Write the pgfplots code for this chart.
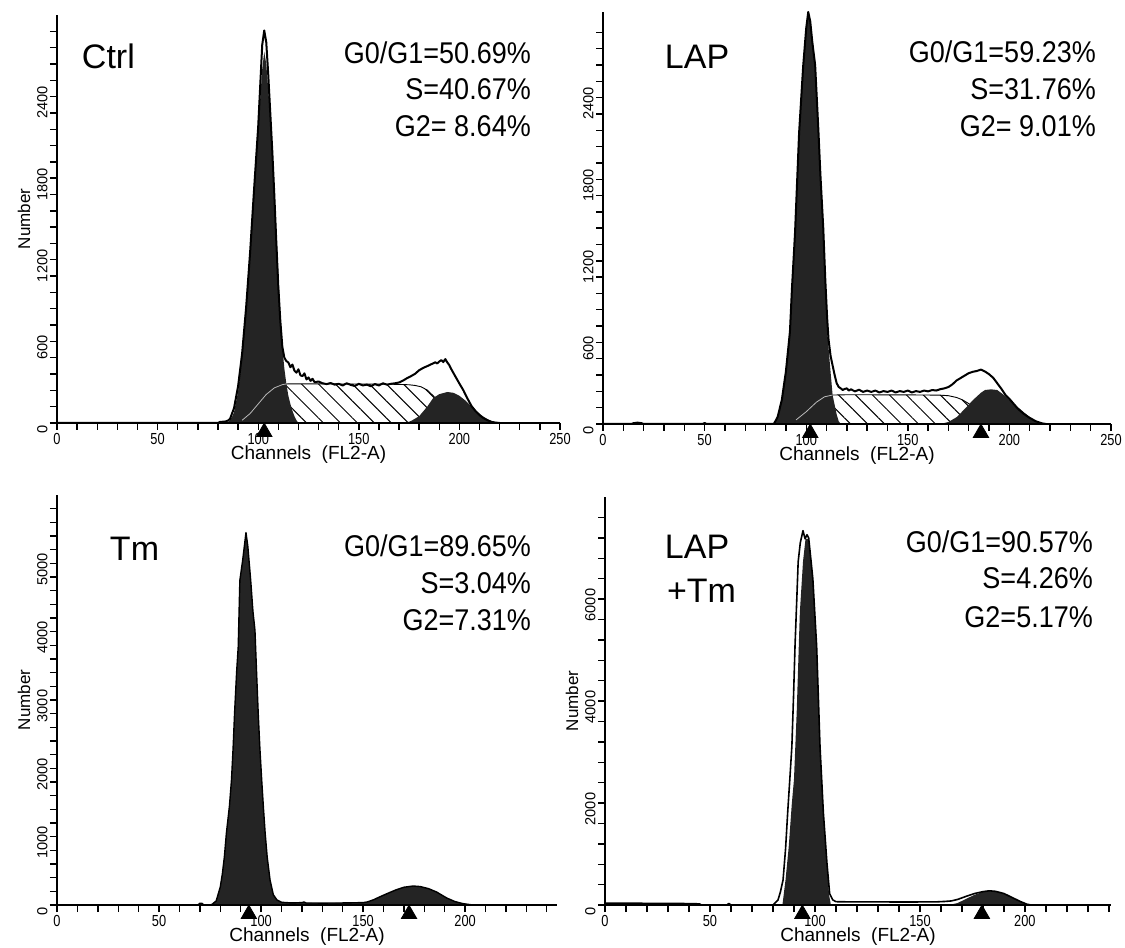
\documentclass[border=0pt]{standalone}
\usepackage{fontspec}
\setmainfont{Liberation Sans}
\newfontfamily\narrowfont[FakeStretch=0.8]{Liberation Sans}
\newfontfamily\pctfont[FakeStretch=0.9]{Liberation Sans}
\usepackage{pgfplots}
\pgfplotsset{compat=1.18}
\usetikzlibrary{patterns.meta}

\newcommand\titlef{\fontsize{17}{20}\selectfont}
\newcommand\pctf{\pctfont\fontsize{15}{18}\selectfont}

\pgfplotsset{
 flow/.style={
  scale only axis, axis lines=left,
  axis line style={-, line width=0.9pt, black},
  tick style={black, line width=0.7pt},
  tick align=outside,
  major tick length=3.5pt, minor tick length=3.5pt,
  xmin=0, ymin=0, clip=false, axis on top,
  xticklabel style={font=\narrowfont\fontsize{8}{9}\selectfont, inner sep=0.5pt, yshift=-1pt},
  yticklabel style={font=\fontsize{7.3}{9}\selectfont, rotate=90, anchor=south, inner sep=1pt, xshift=-3pt},
  xlabel={Channels\ \ (FL2-A)},
  xlabel style={font=\fontsize{9.5}{11}\selectfont, inner sep=0pt, yshift=0pt},
  ylabel style={font=\fontsize{8.5}{10}\selectfont, yshift=-1pt},
  /pgf/number format/assume math mode=true,
  /pgf/number format/1000 sep={},
  scaled ticks=false,
 },
 dfill/.style={fill=black!86, draw=none},
 outl/.style={black, line width=1pt, line join=round},
 hatch/.style={pattern={Lines[angle=-45,distance=6pt,line width=0.5pt]}, draw=black, line width=0.45pt},
 tri/.style={only marks, mark=triangle*, mark size=4.4pt, black},
}

\begin{document}
\begin{tikzpicture}
\useasboundingbox (0,0) rectangle (562.5pt,474pt);

% ---------------- Ctrl ----------------
\begin{axis}[flow, at={(28.5pt,262.5pt)}, anchor=south west,
  width=251.5pt, height=204pt, xmax=250, ymax=3000,
  xtick={0,50,...,250}, minor xtick={0,10,...,250},
  ytick={0,600,1200,1800,2400}, minor ytick={0,120,...,2880},
  ylabel={Number}]
\addplot[hatch] coordinates {(88,0) (92,20) (96,70) (100,140) (104,210) (108,258) (112,282) (114,287) (120,288) (130,288) (140,287) (150,287) (160,286) (170,284) (175,281) (178,276) (181,266) (184,242) (187,200) (190,150) (193,105) (196,68) (200,30) (204,10) (208,0)} \closedcycle;
\addplot[dfill] coordinates {(84,0) (85,8) (86,20) (87,45) (88,80) (90,230) (92,480) (94,820) (96,1250) (98,1720) (100,2150) (101,2380) (102,2600) (103,2730) (104,2640) (105,2450) (106,2250) (107,2000) (108,1720) (109,1420) (110,1100) (111,800) (112,560) (113,400) (114,287) (115,200) (116,140) (117,90) (118,50) (119,20) (120,0)} \closedcycle;
\addplot[gray!55, line width=0.4pt] coordinates {(92,20) (96,70) (100,140) (104,210) (108,258) (112,282) (114,287)};
\addplot[dfill] coordinates {(173,0) (176,15) (180,50) (184,120) (187,184) (190,212) (194,228) (197,222) (200,200) (203,165) (206,120) (209,80) (212,45) (215,20) (218,5) (220,0)} \closedcycle;
\addplot[outl] coordinates {(0,0) (80,0) (81,8) (83,10) (84,12) (85,18) (86,30) (88,110) (90,270) (92,510) (94,850) (96,1260) (98,1730) (100,2180) (101,2480) (102,2780) (103,2886) (104,2800) (105,2560) (106,2280) (107,2000) (108,1680) (109,1330) (110,1000) (111,750) (112,560) (113,480) (114,455) (115,445) (116,410) (117,430) (118,385) (119,370) (120,395) (121,350) (122,345) (123,365) (124,320) (125,335) (126,310) (127,325) (128,300) (130,305) (132,292) (134,286) (136,294) (138,282) (140,288) (142,276) (144,292) (146,280) (148,272) (150,288) (152,276) (154,282) (156,270) (158,286) (160,276) (162,292) (164,282) (166,288) (168,292) (170,298) (172,312) (174,330) (176,345) (178,362) (180,388) (182,405) (184,418) (186,432) (188,446) (189,438) (190,452) (191,462) (192,448) (193,470) (194,445) (195,425) (196,395) (198,342) (200,290) (202,240) (204,180) (206,125) (208,88) (210,58) (212,36) (214,20) (216,8) (218,3) (220,0)};
\addplot[tri] coordinates {(103,-66)};
\node[anchor=base west, font=\titlef] at (axis cs:8.9,2610) {Ctrl};
\node[anchor=base east, font=\pctf] at (axis cs:239,2647) {G0/G1=50.69\%};
\node[anchor=base east, font=\pctf] at (axis cs:239,2375) {S=40.67\%};
\node[anchor=base east, font=\pctf] at (axis cs:239,2103) {G2= 8.64\%};
\end{axis}

% ---------------- LAP ----------------
\begin{axis}[flow, at={(301.5pt,262pt)}, anchor=south west,
  width=254pt, height=206pt, xmax=250, ymax=3030,
  xtick={0,50,...,250}, minor xtick={0,10,...,250},
  ytick={0,600,1200,1800,2400}, minor ytick={0,120,...,2880}]
\addplot[hatch] coordinates {(90,0) (95,30) (100,90) (105,160) (109,200) (113,213) (120,215) (130,215) (140,214) (150,214) (160,213) (166,212) (170,208) (174,195) (177,177) (180,150) (182,125) (186,80) (190,45) (194,20) (198,5) (202,0)} \closedcycle;
\addplot[dfill] coordinates {(84,0) (85,20) (86,50) (88,170) (90,380) (92,670) (93,1000) (94.5,1400) (96.5,2130) (98.5,2620) (100,2900) (101,3030) (102,2950) (103,2800) (104.4,2620) (106,2130) (107,1800) (108.4,1400) (109.4,1000) (110.3,700) (111,560) (112,380) (113,213) (114,140) (115,70) (116,20) (117,0)} \closedcycle;
\addplot[gray!55, line width=0.4pt] coordinates {(95,30) (100,90) (105,160) (109,200) (113,213)};
\addplot[dfill] coordinates {(166,0) (170,15) (174,50) (178,110) (182,175) (186,230) (188,250) (191,255) (194,250) (198,205) (202,150) (206,100) (210,50) (214,15) (217,0)} \closedcycle;
\addplot[outl] coordinates {(0,0) (14,0) (15,6) (17,10) (19,6) (20,0) (49,0) (50,7) (51,0) (84,0) (85,25) (86,55) (88,177) (90,385) (92,680) (93,1000) (94.5,1405) (96.5,2140) (98.5,2630) (100,2910) (101,3030) (102,2960) (103,2810) (104.4,2640) (106,2160) (107,1830) (108.4,1440) (109.4,1060) (110.3,780) (111,620) (112,500) (113,430) (114,360) (115,300) (116,272) (117,262) (118,250) (119,258) (120,262) (121,246) (122,255) (124,240) (126,252) (128,236) (130,246) (132,236) (134,246) (136,232) (138,242) (140,236) (142,246) (144,232) (146,242) (148,236) (150,246) (152,232) (154,242) (156,236) (158,246) (160,240) (162,250) (164,246) (166,256) (168,262) (170,272) (172,292) (174,320) (176,338) (178,356) (180,374) (182,384) (184,390) (186,400) (188,386) (190,366) (192,340) (194,300) (196,260) (198,215) (200,185) (202,150) (204,115) (207,75) (210,45) (213,20) (216,5) (218,0)};
\addplot[tri] coordinates {(102,-66) (186,-66)};
\node[anchor=base west, font=\titlef] at (axis cs:27,2618) {LAP};
\node[anchor=base east, font=\pctf] at (axis cs:246,2655) {G0/G1=59.23\%};
\node[anchor=base east, font=\pctf] at (axis cs:246,2383) {S=31.76\%};
\node[anchor=base east, font=\pctf] at (axis cs:246,2111) {G2= 9.01\%};
\end{axis}

% ---------------- Tm ----------------
\begin{axis}[flow, at={(28.5pt,21.5pt)}, anchor=south west,
  width=250pt, height=205pt, xmax=245, ymax=6000,
  xtick={0,50,...,200}, minor xtick={0,10,...,240},
  ytick={0,1000,...,5000}, minor ytick={0,200,...,5800},
  ylabel={Number}]
\addplot[dfill] coordinates {(69,0) (70,25) (71,25) (72,0) (75,0) (76,10) (78,60) (80,263) (81,450) (82,700) (83,1050) (84.5,1450) (85.5,1830) (86.3,2300) (87,2800) (88,3400) (88.8,3780) (89.6,4750) (91,5050) (92,5300) (92.6,5450) (93.5,5250) (94.9,4755) (96,4300) (97,4020) (97.8,3400) (98.6,2800) (99.4,2300) (100.3,1830) (101.2,1400) (102,1050) (103,700) (104.4,365) (106,150) (107.8,73) (110,40) (115,30) (120,35) (121,45) (122,30) (130,28) (140,30) (150,35) (152,45) (155,75) (158,117) (162,170) (166,220) (170,260) (174.5,278) (178,270) (182,240) (186,190) (191,102) (195,50) (199,20) (202.5,5) (204,0)} \closedcycle;
\addplot[outl, line width=0.7pt] coordinates {(0,0) (69,0) (70,25) (71,25) (72,0) (75,0) (76,10) (78,60) (80,263) (81,450) (82,700) (83,1050) (84.5,1450) (85.5,1830) (86.3,2300) (87,2800) (88,3400) (88.8,3780) (89.6,4750) (91,5050) (92,5300) (92.6,5450) (93.5,5250) (94.9,4755) (96,4300) (97,4020) (97.8,3400) (98.6,2800) (99.4,2300) (100.3,1830) (101.2,1400) (102,1050) (103,700) (104.4,365) (106,150) (107.8,73) (110,40) (115,30) (120,35) (121,45) (122,30) (130,28) (140,30) (150,35) (152,45) (155,75) (158,117) (162,170) (166,220) (170,260) (174.5,278) (178,270) (182,240) (186,190) (191,102) (195,50) (199,20) (202.5,5) (204,0)};
\addplot[tri] coordinates {(94,-132) (172.5,-132)};
\node[anchor=base west, font=\titlef] at (axis cs:22.5,5047) {Tm};
\node[anchor=base east, font=\pctf] at (axis cs:235.7,5106) {G0/G1=89.65\%};
\node[anchor=base east, font=\pctf] at (axis cs:235.7,4565) {S=3.04\%};
\node[anchor=base east, font=\pctf] at (axis cs:235.7,4023) {G2=7.31\%};
\end{axis}

% ---------------- LAP+Tm ----------------
\begin{axis}[flow, at={(302.5pt,21.5pt)}, anchor=south west,
  width=253pt, height=204pt, xmax=241, ymax=8000,
  xtick={0,50,...,200}, minor xtick={0,10,...,240},
  ytick={0,2000,4000,6000}, minor ytick={0,400,...,7600},
  ylabel={Number}]
\addplot[dfill] coordinates {(84.5,0) (86,500) (87.5,1140) (89,2000) (90,2460) (91.3,3780) (92.8,5740) (94.3,6730) (95.5,7180) (97,7180) (99,6390) (100.8,5075) (102.4,3110) (104,1810) (105.7,826) (106.7,200) (107.6,0)} \closedcycle;
\addplot[dfill] coordinates {(164,0) (168,40) (172,120) (176,200) (180,255) (183,272) (186,262) (190,218) (194,140) (198,60) (201,0)} \closedcycle;
\addplot[outl, line width=0.8pt] coordinates {(0,35) (10,38) (20,32) (30,30) (40,28) (45,22) (46,0) (58,0) (59,30) (60,0) (80,0) (82.4,98) (83.5,250) (84.8,490) (86,1100) (87,1810) (88,2450) (89,3110) (89.8,4100) (90.5,5075) (91.3,5950) (92,6730) (93,7100) (94.3,7340) (95.3,7180) (96.2,7260) (97,7200) (98,6800) (99,6390) (100.8,5075) (102.4,3110) (104,1810) (105.7,826) (107,220) (108.5,100) (110,65) (120,60) (130,62) (140,58) (150,60) (158,62) (162,70) (165,80) (168,110) (172,170) (176,225) (180,262) (183,278) (186,268) (190,225) (194,145) (198,65) (201,15) (203,0)};
\addplot[tri] coordinates {(94,-176) (179.5,-176)};
\node[anchor=base west, font=\titlef] at (axis cs:25.2,6801) {LAP};
\node[anchor=base west, font=\titlef] at (axis cs:26.2,5939) {+Tm};
\node[anchor=base east, font=\pctf] at (axis cs:235.7,6919) {G0/G1=90.57\%};
\node[anchor=base east, font=\pctf] at (axis cs:235.7,6213) {S=4.26\%};
\node[anchor=base east, font=\pctf] at (axis cs:235.7,5449) {G2=5.17\%};
\end{axis}
\end{tikzpicture}
\end{document}
